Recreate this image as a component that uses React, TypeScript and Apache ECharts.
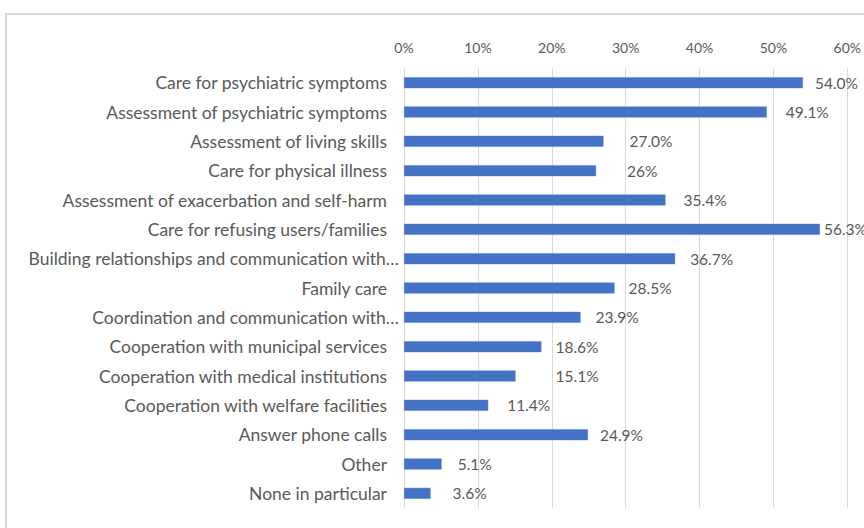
import React, { useEffect, useRef } from "react";
import * as echarts from "echarts";

const categories = [
  "Care for psychiatric symptoms",
  "Assessment of psychiatric symptoms",
  "Assessment of living skills",
  "Care for physical illness",
  "Assessment of exacerbation and self-harm",
  "Care for refusing users/families",
  "Building relationships and communication with…",
  "Family care",
  "Coordination and communication with…",
  "Cooperation with municipal services",
  "Cooperation with medical institutions",
  "Cooperation with welfare facilities",
  "Answer phone calls",
  "Other",
  "None in particular",
];

const values = [54.0, 49.1, 27.0, 26, 35.4, 56.3, 36.7, 28.5, 23.9, 18.6, 15.1, 11.4, 24.9, 5.1, 3.6];

const valueLabels = [
  "54.0%", "49.1%", "27.0%", "26%", "35.4%", "56.3%", "36.7%", "28.5%",
  "23.9%", "18.6%", "15.1%", "11.4%", "24.9%", "5.1%", "3.6%",
];

// gap between bar end and its data label (as placed in the original)
const labelGaps = [12, 19, 26, 31, 18, 4, 15, 14, 15, 14, 40, 19, 12, 16, 22];

const xTicks = [0, 10, 20, 30, 40, 50, 60];

const FONT = "Lato";
const TEXT = "#595959";

export default function App() {
  const ref = useRef<HTMLDivElement>(null);
  useEffect(() => {
    if (!ref.current) return;
    const chart = echarts.init(ref.current, undefined, { renderer: "svg" });
    chart.setOption({
      animation: false,
      textStyle: { fontFamily: FONT },
      graphic: [
        {
          type: "rect",
          shape: { x: 6, y: 14, width: 900, height: 600 },
          style: { fill: "none", stroke: "#d9d9d9", lineWidth: 2 },
          silent: true,
        },
      ],
      grid: { left: 404, right: 15, top: 68, bottom: 20, containLabel: false },
      xAxis: {
        type: "value",
        position: "top",
        min: xTicks[0],
        max: xTicks[xTicks.length - 1],
        interval: 10,
        axisLine: { show: false },
        axisTick: { show: false },
        splitLine: { show: true, lineStyle: { color: "#d9d9d9", width: 1 } },
        axisLabel: {
          color: TEXT,
          fontFamily: FONT,
          fontSize: 14,
          margin: 14,
          formatter: (v: number) => `${v}%`,
        },
      },
      yAxis: {
        type: "category",
        inverse: true,
        data: categories,
        axisLine: { show: false },
        axisTick: { show: false },
        axisLabel: {
          color: TEXT,
          fontFamily: FONT,
          fontSize: 17.5,
          margin: 5,
          formatter: (v: string) => (v.endsWith("…") ? `{t|${v}}` : `{n|${v}}`),
          rich: {
            t: { color: TEXT, fontFamily: FONT, fontSize: 17.5 },
            n: { color: TEXT, fontFamily: FONT, fontSize: 17.5, padding: [0, 12, 0, 0] },
          },
        },
      },
      series: [
        {
          type: "bar",
          barWidth: 11,
          itemStyle: { color: "#4472c4", borderColor: "#5b86d6", borderWidth: 0.5 },
          data: values.map((v, i) => ({
            value: v,
            label: {
              show: true,
              position: "right",
              distance: labelGaps[i],
              formatter: valueLabels[i],
              color: TEXT,
              fontFamily: FONT,
              fontSize: 15.5,
            },
          })),
        },
      ],
    });
    return () => chart.dispose();
  }, []);
  return (
    <div
      ref={ref}
      style={{ position: "fixed", left: 0, top: 0, width: 864, height: 528, background: "#fff" }}
    />
  );
}
